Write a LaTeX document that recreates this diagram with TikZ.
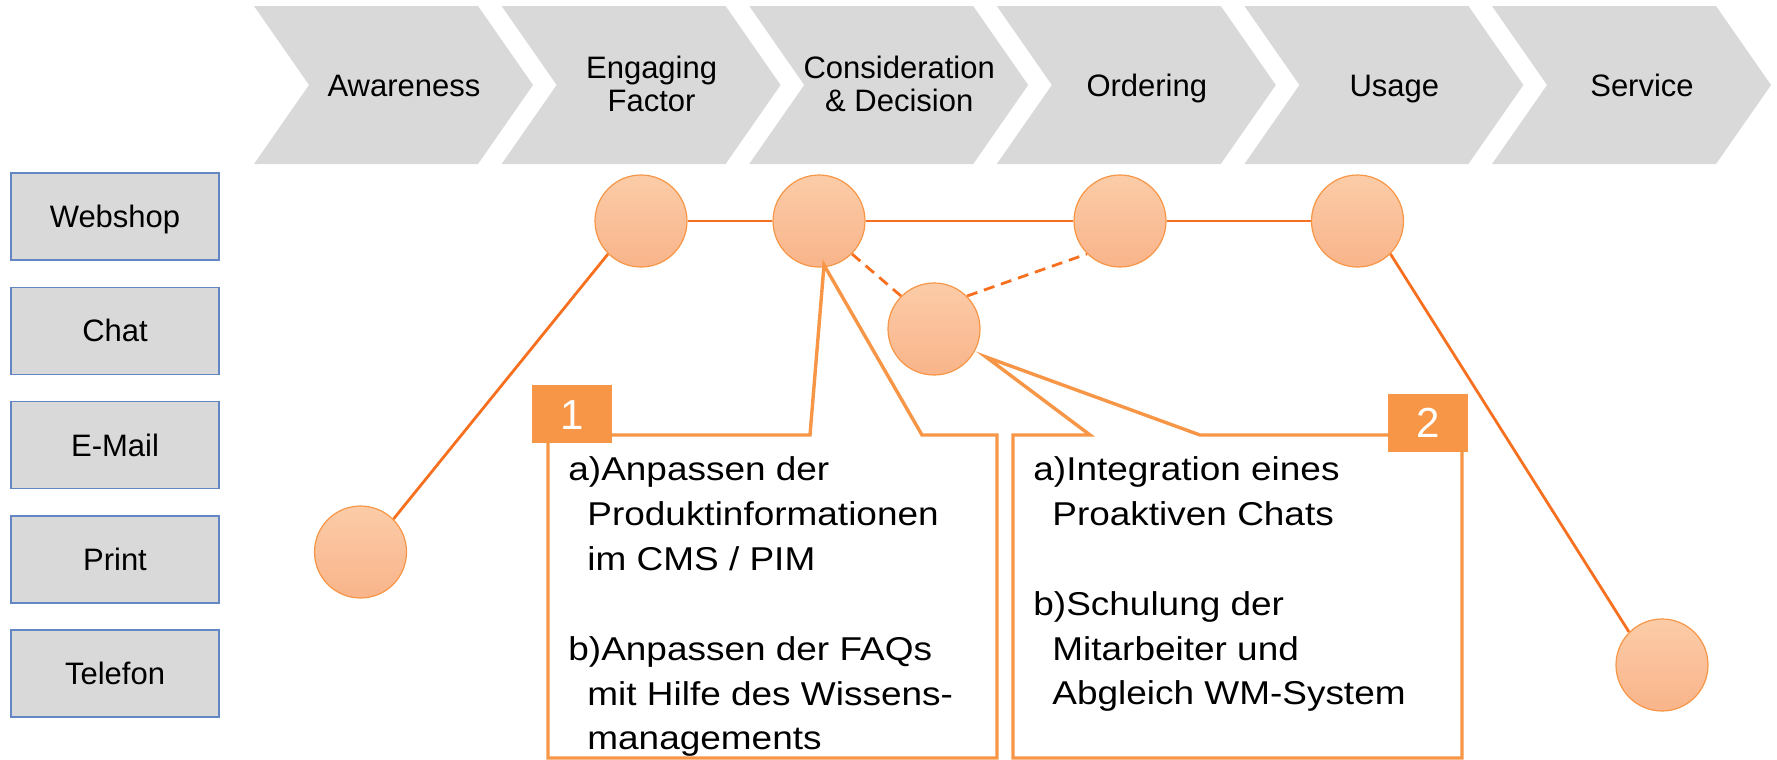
\documentclass[tikz,border=0pt]{standalone}
\usepackage{fontspec}
\setmainfont{Liberation Sans}
\newfontfamily\callfont[FakeStretch=1.12]{Liberation Sans}
\usetikzlibrary{backgrounds}
\definecolor{chev}{HTML}{D9D9D9}
\definecolor{boxline}{RGB}{98,135,196}
\definecolor{conn}{RGB}{247,112,32}
\definecolor{orng}{RGB}{247,150,70}
\definecolor{ctop}{RGB}{251,204,168}
\definecolor{cbot}{RGB}{249,180,138}
\tikzset{
 chevtext/.style={font=\fontsize{15.5pt}{16.7pt}\selectfont, inner sep=0pt},
 chevone/.style={chevtext, text height=11.1pt, text depth=0pt},
 chevline/.style={chevtext, anchor=base},
 chan/.style={draw=boxline, line width=0.75pt, fill=chev, minimum width=104pt, minimum height=43.5pt, inner sep=0pt, text height=11.1pt, text depth=0pt, font=\fontsize{15.5pt}{16.7pt}\selectfont},
 touch/.style={circle, draw=orng, line width=0.6pt, top color=ctop, bottom color=cbot, minimum size=46pt, inner sep=0pt},
 conline/.style={draw=conn, line width=1.4pt},
 condash/.style={conline, dash pattern=on 5.5pt off 3.5pt},
 callout/.style={draw=orng, line width=1.7pt, fill=white, line join=miter},
 badge/.style={fill=orng, minimum width=40pt, minimum height=29pt, inner sep=0pt, text=white, font=\fontsize{21pt}{24pt}\selectfont, text height=15pt, text depth=0pt},
 calltext/.style={anchor=base west, inner sep=0pt, font=\callfont\fontsize{16.5pt}{22.5pt}\selectfont},
}
\begin{document}
\begin{tikzpicture}[x=0.5pt,y=-0.5pt]
\useasboundingbox (0,0) rectangle (1777,760);
% chevrons
\foreach \i in {0,...,5}{
  \pgfmathsetmacro\L{254+247.6*\i}
  \fill[chev] (\L,6) -- ({\L+224},6) -- ({\L+279},85) -- ({\L+224},164) -- (\L,164) -- ({\L+55},85) -- cycle;
}
\node[chevone] (t1) at (404,85) {Awareness};
\node[chevline] (t2a) at (651.6,78.3) {Engaging};
\node[chevline] (t2b) at (651.6,111.7) {Factor};
\node[chevline] (t3a) at (899.2,78.3) {Consideration};
\node[chevline] (t3b) at (899.2,111.7) {\& Decision};
\node[chevone] (t4) at (1146.8,85) {Ordering};
\node[chevone] (t5) at (1394.4,85) {Usage};
\node[chevone] (t6) at (1642,85) {Service};
% channels
\node[chan] (web) at (115,216.5) {Webshop};
\node[chan] (chat) at (115,330.75) {Chat};
\node[chan] (mail) at (115,445) {E-Mail};
\node[chan] (print) at (115,559.25) {Print};
\node[chan] (tel) at (115,673.5) {Telefon};
% touchpoints
\node[touch] (A) at (641,221) {};
\node[touch] (B) at (819,221) {};
\node[touch] (C) at (1120,221) {};
\node[touch] (D) at (1357.5,221) {};
\node[touch] (E) at (934,329) {};
\node[touch] (F) at (360.5,552) {};
\node[touch] (G) at (1662,665) {};
\begin{scope}[on background layer]
\draw[conline] (A.east) -- (B.west);
\draw[conline] (B.east) -- (C.west);
\draw[conline] (C.east) -- (D.west);
\draw[conline] (F.north east) -- (A.south west);
\draw[conline] (D.south east) -- (G.north west);
\draw[condash] (B.south east) -- (E.north west);
\draw[condash] (E.north east) -- (C.south west);
\end{scope}
% callouts
\coordinate (p1) at (824,265);
\coordinate (p2) at (986,357);
\path[callout] (548,435) -- (810,435) -- (p1) -- (922,435) -- (997,435) -- (997,758) -- (548,758) -- cycle;
\path[callout] (1013,435) -- (1090,435) -- (p2) -- (1200,435) -- (1462,435) -- (1462,758) -- (1013,758) -- cycle;
\node[badge] (b1) at (572,414) {1};
\node[badge] (b2) at (1428,422.5) {2};
\node[calltext] (c1a) at (568,480) {a)Anpassen der};
\node[calltext] (c1b) at (587,525) {Produktinformationen};
\node[calltext] (c1c) at (587,570) {im CMS / PIM};
\node[calltext] (c1d) at (568,660) {b)Anpassen der FAQs};
\node[calltext] (c1e) at (587,705) {mit Hilfe des Wissens-};
\node[calltext] (c1f) at (587,749) {managements};
\node[calltext] (c2a) at (1033,480) {a)Integration eines};
\node[calltext] (c2b) at (1052,525) {Proaktiven Chats};
\node[calltext] (c2c) at (1033,615) {b)Schulung der};
\node[calltext] (c2d) at (1052,660) {Mitarbeiter und};
\node[calltext] (c2e) at (1052,704) {Abgleich WM-System};
\end{tikzpicture}
\end{document}
